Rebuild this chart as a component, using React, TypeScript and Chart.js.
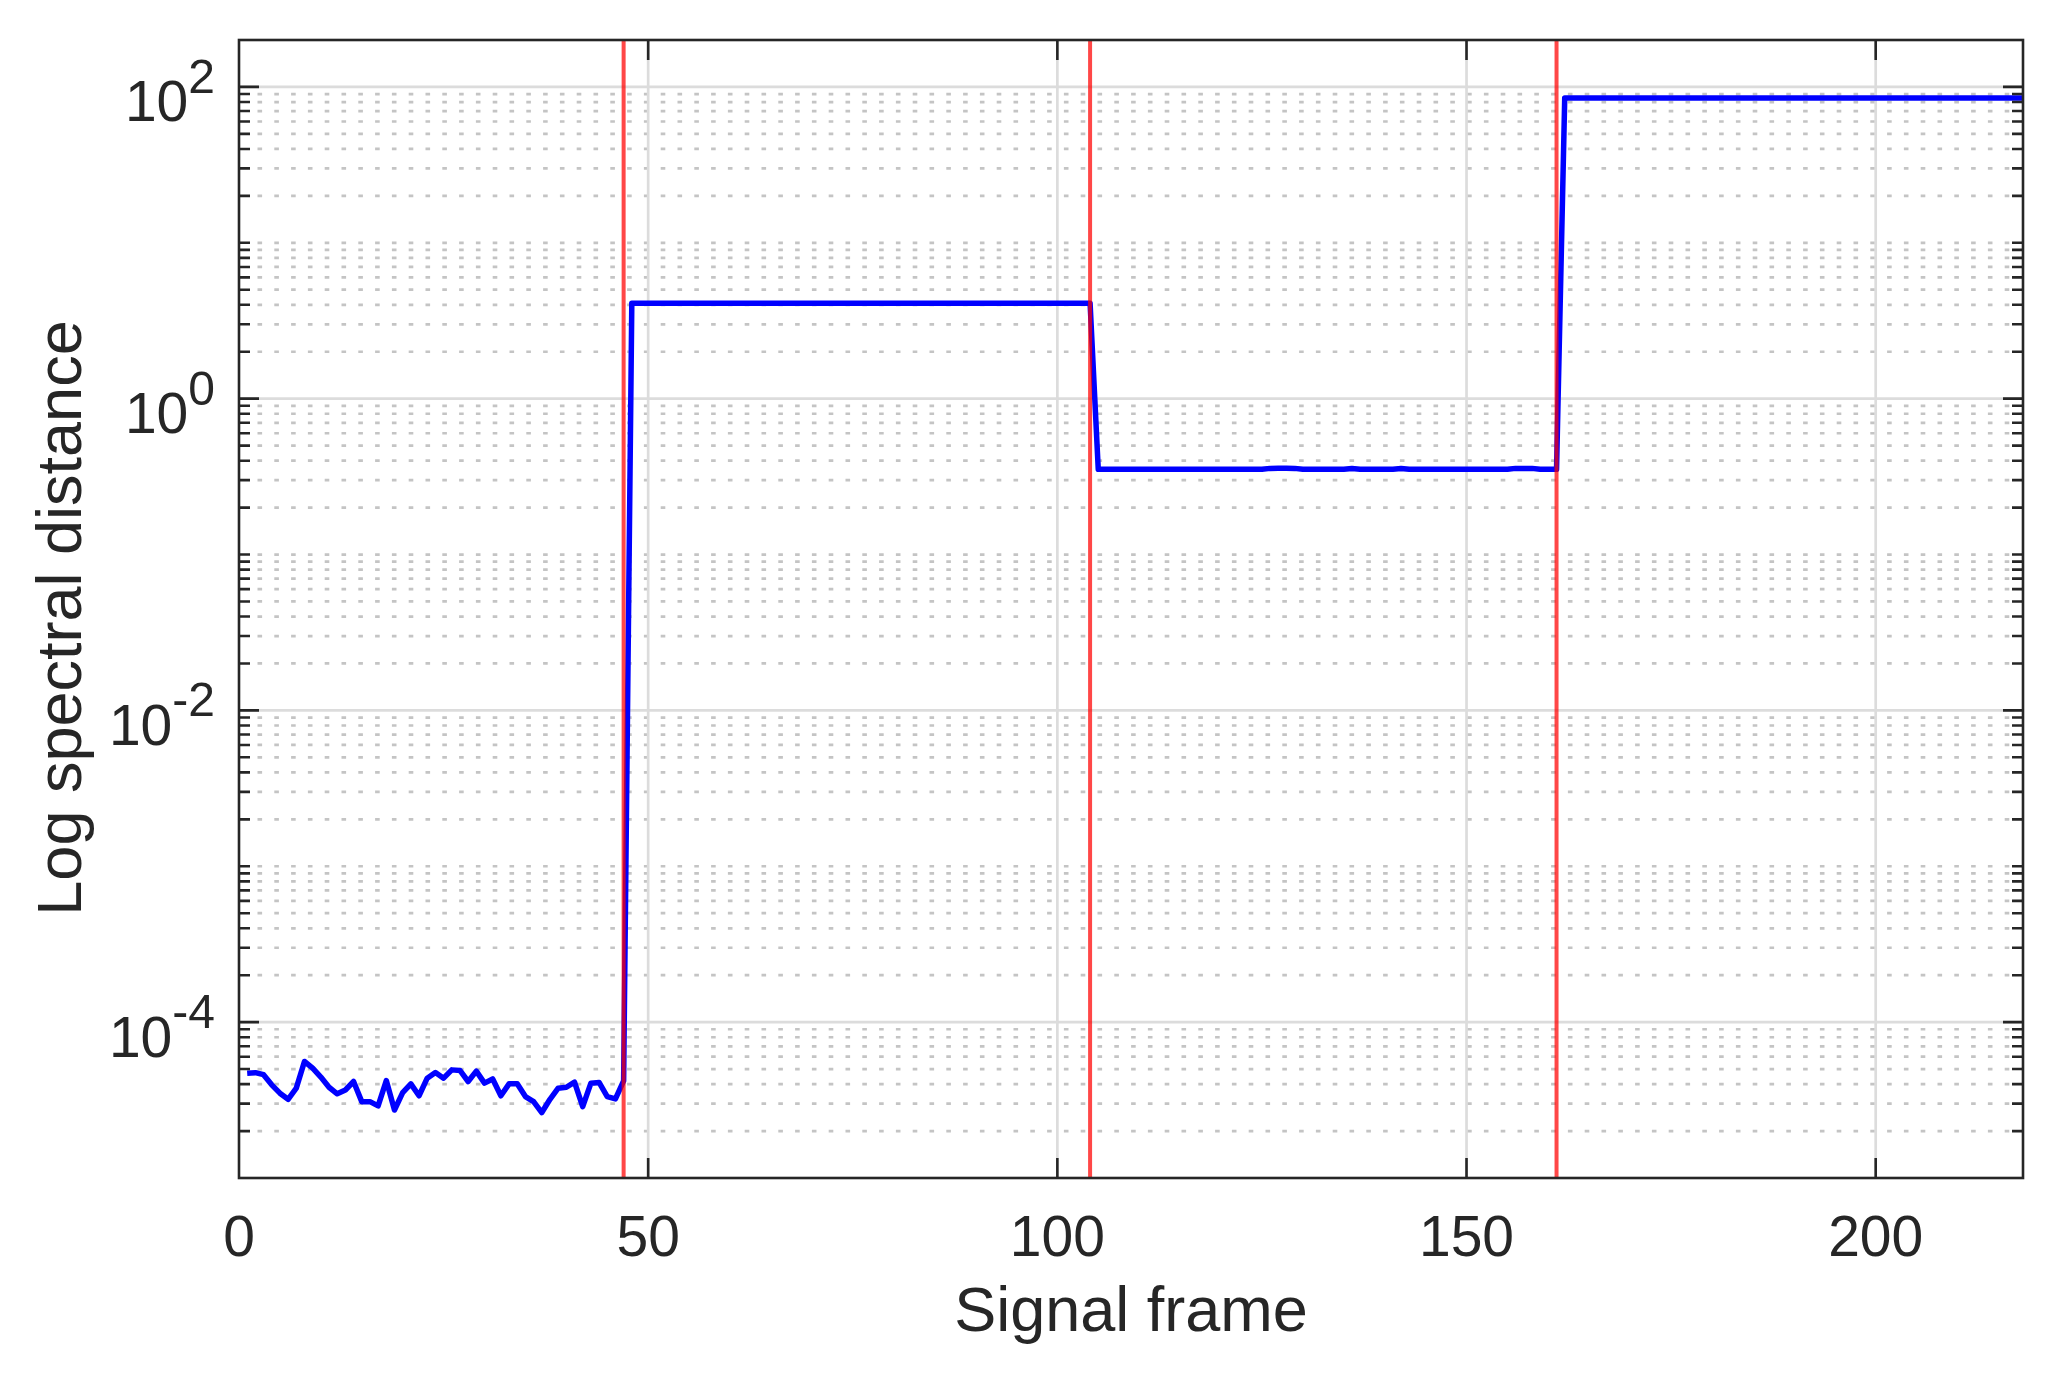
import React, { useEffect, useRef } from "react";
import { Chart, registerables } from "chart.js";

Chart.register(...registerables);

// ---- Data ----
// Frames 1..47: low-level noise
const noiseSegment = [
  4.7e-5, 4.74e-5, 4.6e-5, 3.96e-5, 3.5e-5, 3.2e-5, 3.77e-5, 5.59e-5, 5.07e-5, 4.44e-5,
  3.82e-5, 3.47e-5, 3.67e-5, 4.16e-5, 3.09e-5, 3.09e-5, 2.9e-5, 4.22e-5, 2.73e-5, 3.53e-5,
  4.02e-5, 3.37e-5, 4.37e-5, 4.75e-5, 4.37e-5, 4.94e-5, 4.9e-5, 4.16e-5, 4.85e-5, 4.06e-5,
  4.32e-5, 3.37e-5, 4.02e-5, 4.02e-5, 3.33e-5, 3.09e-5, 2.63e-5, 3.2e-5, 3.77e-5, 3.82e-5,
  4.12e-5, 2.87e-5, 4.06e-5, 4.1e-5, 3.33e-5, 3.22e-5, 4.2e-5,
];
// Frames 48..104
const segmentA = [
  4.1, 4.1, 4.1, 4.1, 4.1, 4.1, 4.1, 4.1, 4.1, 4.1,
  4.1, 4.1, 4.1, 4.1, 4.1, 4.1, 4.1, 4.1, 4.1, 4.1,
  4.1, 4.1, 4.1, 4.1, 4.1, 4.1, 4.1, 4.1, 4.1, 4.1,
  4.1, 4.1, 4.1, 4.1, 4.1, 4.1, 4.1, 4.1, 4.1, 4.1,
  4.1, 4.1, 4.1, 4.1, 4.1, 4.1, 4.1, 4.1, 4.1, 4.1,
  4.1, 4.1, 4.1, 4.1, 4.1, 4.1, 4.1,
];
// Frames 105..161
const segmentB = [
  0.352, 0.352, 0.352, 0.352, 0.352, 0.352, 0.352, 0.352, 0.352, 0.352,
  0.352, 0.352, 0.352, 0.352, 0.352, 0.352, 0.352, 0.352, 0.352, 0.352,
  0.352, 0.357, 0.358, 0.358, 0.357, 0.352, 0.352, 0.352, 0.352, 0.352,
  0.352, 0.356, 0.352, 0.352, 0.352, 0.352, 0.352, 0.356, 0.352, 0.352,
  0.352, 0.352, 0.352, 0.352, 0.352, 0.352, 0.352, 0.352, 0.352, 0.352,
  0.352, 0.357, 0.357, 0.357, 0.352, 0.352, 0.352,
];
// Frames 162..218
const segmentC = [
  85, 85, 85, 85, 85, 85, 85, 85, 85, 85,
  85, 85, 85, 85, 85, 85, 85, 85, 85, 85,
  85, 85, 85, 85, 85, 85, 85, 85, 85, 85,
  85, 85, 85, 85, 85, 85, 85, 85, 85, 85,
  85, 85, 85, 85, 85, 85, 85, 85, 85, 85,
  85, 85, 85, 85, 85, 85, 85,
];

const changePoints = [47, 104, 161];

const xTicks = [0, 50, 100, 150, 200];
const xTickLabels = ["0", "50", "100", "150", "200"];
const yMajorTicks = [1e2, 1e0, 1e-2, 1e-4];
const yMajorExponents = ["2", "0", "-2", "-4"];
const xMin = 0;
const xMax = 218;
const yMin = 1e-5;
const yMax = 200;

const xTitle = "Signal frame";
const yTitle = "Log spectral distance";

const FONT = '"Liberation Sans", Arial, Helvetica, sans-serif';
const TEXT_COLOR = "#262626";

function minorTicks(): number[] {
  const out: number[] = [];
  for (let e = -5; e <= 2; e++) {
    for (let m = 1; m <= 9; m++) {
      const v = m * Math.pow(10, e);
      if (v <= yMin * 1.0001 || v >= yMax * 0.9999) continue;
      if (yMajorTicks.some((t) => Math.abs(t - v) / t < 1e-6)) continue;
      out.push(v);
    }
  }
  return out;
}

const decorPlugin = {
  id: "decor",
  beforeDatasetsDraw(chart: any) {
    const { ctx, chartArea: a, scales } = chart;
    const x = scales.x;
    const y = scales.y;
    ctx.save();
    // minor dotted grid
    ctx.lineWidth = 2.7;
    ctx.strokeStyle = "#c4c4c4";
    ctx.setLineDash([4.6, 12.2]);
    ctx.lineCap = "butt";
    for (const v of minorTicks()) {
      const py = y.getPixelForValue(v);
      ctx.beginPath();
      ctx.moveTo(a.left + 18.5, py);
      ctx.lineTo(a.right, py);
      ctx.stroke();
    }
    // major solid grid
    ctx.setLineDash([]);
    ctx.strokeStyle = "#dcdcdc";
    ctx.lineWidth = 2.7;
    for (const v of yMajorTicks) {
      const py = y.getPixelForValue(v);
      ctx.beginPath();
      ctx.moveTo(a.left, py);
      ctx.lineTo(a.right, py);
      ctx.stroke();
    }
    for (const v of xTicks) {
      if (v <= xMin || v >= xMax) continue;
      const px = x.getPixelForValue(v);
      ctx.beginPath();
      ctx.moveTo(px, a.top);
      ctx.lineTo(px, a.bottom);
      ctx.stroke();
    }
    ctx.restore();
  },
  afterDraw(chart: any) {
    const { ctx, chartArea: a, scales } = chart;
    const x = scales.x;
    const y = scales.y;
    ctx.save();
    ctx.setLineDash([]);
    ctx.strokeStyle = TEXT_COLOR;
    ctx.lineWidth = 2.6;
    ctx.lineCap = "butt";
    // ticks
    const majorLen = 20;
    const minorLen = 11;
    ctx.beginPath();
    for (const v of xTicks) {
      if (v <= xMin || v >= xMax) continue;
      const px = x.getPixelForValue(v);
      ctx.moveTo(px, a.bottom);
      ctx.lineTo(px, a.bottom - majorLen);
      ctx.moveTo(px, a.top);
      ctx.lineTo(px, a.top + majorLen);
    }
    for (const v of yMajorTicks) {
      const py = y.getPixelForValue(v);
      ctx.moveTo(a.left, py);
      ctx.lineTo(a.left + majorLen, py);
      ctx.moveTo(a.right, py);
      ctx.lineTo(a.right - majorLen, py);
    }
    for (const v of minorTicks()) {
      const py = y.getPixelForValue(v);
      ctx.moveTo(a.left, py);
      ctx.lineTo(a.left + minorLen, py);
      ctx.moveTo(a.right, py);
      ctx.lineTo(a.right - minorLen, py);
    }
    ctx.stroke();
    // frame
    ctx.lineJoin = "miter";
    ctx.strokeRect(a.left, a.top, a.right - a.left, a.bottom - a.top);

    // x tick labels
    ctx.fillStyle = TEXT_COLOR;
    ctx.font = `57px ${FONT}`;
    ctx.textAlign = "center";
    ctx.textBaseline = "alphabetic";
    xTicks.forEach((v, i) => {
      ctx.fillText(xTickLabels[i], x.getPixelForValue(v), a.bottom + 77.7);
    });

    // y tick labels: 10^n
    yMajorTicks.forEach((v, i) => {
      const py = y.getPixelForValue(v);
      const exp = yMajorExponents[i];
      ctx.font = `48px ${FONT}`;
      const expW = ctx.measureText(exp).width;
      const expStart = a.left - 24 - expW;
      ctx.textAlign = "left";
      ctx.fillText(exp, expStart, py + 6);
      ctx.font = `57px ${FONT}`;
      ctx.textAlign = "right";
      ctx.fillText("10", expStart, py + 34.4);
    });

    // axis titles
    ctx.font = `63px ${FONT}`;
    ctx.textAlign = "center";
    ctx.fillText(xTitle, (a.left + a.right) / 2, 1331);
    ctx.translate(80.7, (a.top + a.bottom) / 2 + 9);
    ctx.rotate(-Math.PI / 2);
    ctx.fillText(yTitle, 0, 0);
    ctx.restore();
  },
};

export default function App() {
  const canvasRef = useRef<HTMLCanvasElement | null>(null);

  useEffect(() => {
    if (!canvasRef.current) return;
    const values = [...noiseSegment, ...segmentA, ...segmentB, ...segmentC];
    const points = values.map((v, i) => ({ x: i + 1, y: v }));

    const redSets = changePoints.map((cp) => ({
      data: [
        { x: cp, y: yMin },
        { x: cp, y: yMax },
      ],
      borderColor: "rgba(255,0,0,0.72)",
      borderWidth: 4,
      pointRadius: 0,
      fill: false,
      tension: 0,
    }));

    const chart = new Chart(canvasRef.current, {
      type: "line",
      data: {
        datasets: [
          ...redSets,
          {
            data: points,
            borderColor: "#0000ff",
            borderWidth: 5.5,
            pointRadius: 0,
            fill: false,
            tension: 0,
            borderJoinStyle: "round",
            borderCapStyle: "butt",
          },
        ],
      } as any,
      options: {
        responsive: false,
        animation: false,
        devicePixelRatio: 1,
        layout: { padding: { top: 40, right: 41, left: 0, bottom: 0 } },
        plugins: {
          legend: { display: false },
          tooltip: { enabled: false },
        },
        scales: {
          x: {
            type: "linear",
            min: xMin,
            max: xMax,
            grid: { display: false },
            border: { display: false },
            ticks: { display: false },
            afterFit: (s: any) => {
              s.height = 198;
            },
          },
          y: {
            type: "logarithmic",
            min: yMin,
            max: yMax,
            grid: { display: false },
            border: { display: false },
            ticks: { display: false },
            afterFit: (s: any) => {
              s.width = 239;
            },
          },
        },
      } as any,
      plugins: [decorPlugin],
    });
    return () => chart.destroy();
  }, []);

  return (
    <div
      style={{
        position: "fixed",
        left: 0,
        top: 0,
        width: 2064,
        height: 1376,
        background: "#ffffff",
      }}
    >
      <canvas ref={canvasRef} width={2064} height={1376} style={{ display: "block" }} />
    </div>
  );
}
